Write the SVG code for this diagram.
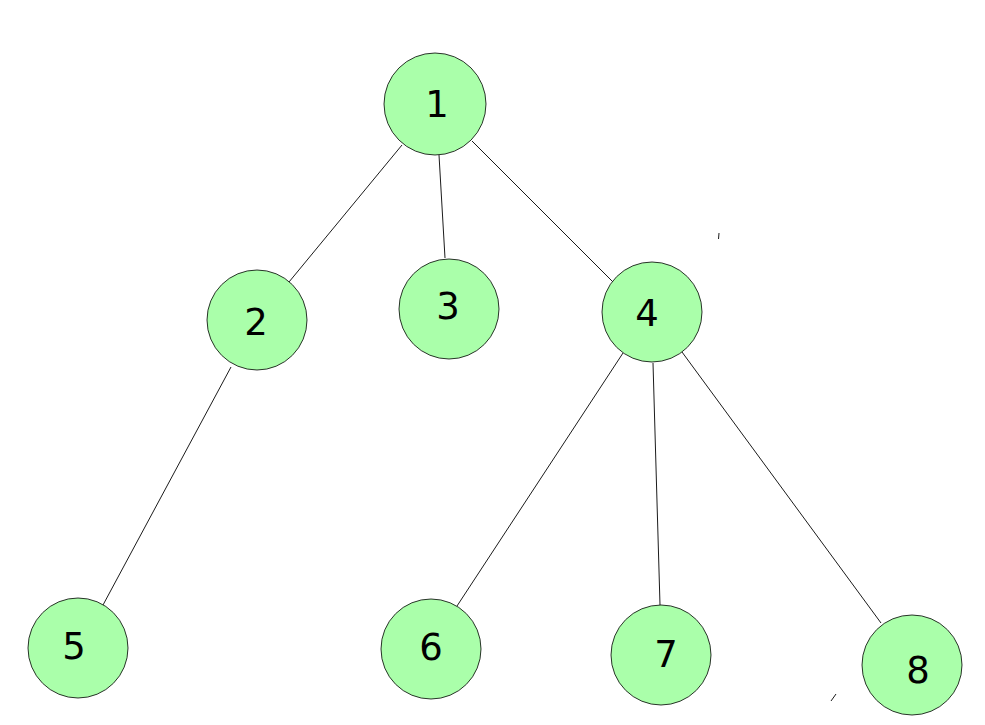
<svg xmlns="http://www.w3.org/2000/svg" width="985" height="725" viewBox="0 0 985 725">
<style>
.n{fill:#aaffaa;stroke:#000;stroke-width:0.8}
.t{font-family:"DejaVu Sans",sans-serif;font-size:37px;fill:#000;text-anchor:middle}
.e{stroke:#000;stroke-width:0.9;fill:none}
</style>
<rect width="985" height="725" fill="#fff"/>
<g id="edges">
<line class="e" x1="402" y1="145" x2="289" y2="282"/>
<line class="e" x1="439" y1="155" x2="445" y2="258"/>
<line class="e" x1="472" y1="141" x2="615" y2="284"/>
<line class="e" x1="231" y1="367" x2="103" y2="605"/>
<line class="e" x1="623" y1="353" x2="457" y2="606"/>
<line class="e" x1="653" y1="363" x2="660" y2="605"/>
<line class="e" x1="682" y1="352" x2="881" y2="623"/>
<line class="e" x1="719" y1="233" x2="718.5" y2="239"/>
<line class="e" x1="836" y1="694" x2="831" y2="701"/>
</g>
<g id="n1"><circle class="n" cx="435" cy="104" r="51"/><text class="t" x="437" y="117">1</text></g>
<g id="n2"><circle class="n" cx="257" cy="320" r="50"/><text class="t" x="256" y="335">2</text></g>
<g id="n3"><circle class="n" cx="449" cy="309" r="50"/><text class="t" x="448" y="319">3</text></g>
<g id="n4"><circle class="n" cx="652" cy="312" r="50"/><text class="t" x="647" y="326">4</text></g>
<g id="n5"><circle class="n" cx="78" cy="648" r="50"/><text class="t" x="74" y="659">5</text></g>
<g id="n6"><circle class="n" cx="431" cy="649" r="50"/><text class="t" x="431" y="660">6</text></g>
<g id="n7"><circle class="n" cx="661" cy="655" r="50"/><text class="t" x="666" y="667">7</text></g>
<g id="n8"><circle class="n" cx="912" cy="665" r="50"/><text class="t" x="918" y="683">8</text></g>
</svg>
